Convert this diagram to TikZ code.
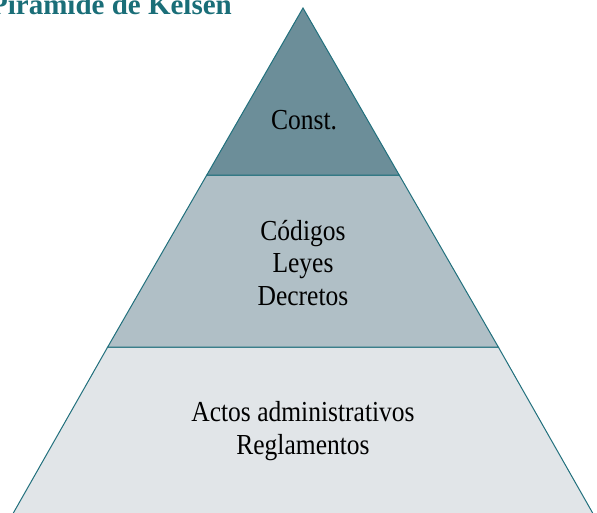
\documentclass[tikz,border=0pt]{standalone}
\usepackage{fontspec}
\setmainfont{Liberation Serif}
\newfontfamily\bandfont[FakeStretch=0.88]{Liberation Serif}
\definecolor{edgeteal}{HTML}{21707D}
\definecolor{titleteal}{HTML}{1A6E78}
\definecolor{topband}{HTML}{6C8E99}
\definecolor{midband}{HTML}{B0BFC6}
\definecolor{lowband}{HTML}{E1E5E8}
\begin{document}
\begin{tikzpicture}[x=1pt,y=-1pt,
  band/.style={draw=edgeteal,line width=1pt,line join=miter},
  bandtext/.style={font=\bandfont\fontsize{29}{32.5}\selectfont,align=center,text=black,inner sep=0pt}]
\useasboundingbox (0,0) rectangle (597,512);
\clip (0,0) rectangle (597,512);
\coordinate (apex) at (303,8);
\coordinate (l1) at (206.8,175);
\coordinate (r1) at (399.2,175);
\coordinate (l2) at (107.7,347);
\coordinate (r2) at (498.3,347);
\coordinate (l3) at (-2,540);
\coordinate (r3) at (608,540);
\fill[lowband] (l2) -- (r2) -- (r3) -- (l3) -- cycle;
\draw[band] (r3) -- (r2) -- (l2) -- (l3);
\draw[band,fill=midband] (l1) -- (r1) -- (r2) -- (l2) -- cycle;
\draw[band,fill=topband] (apex) -- (r1) -- (l1) -- cycle;
\node[bandtext] (const) at (304,120) {Const.};
\node[bandtext] (mid) at (303,263) {Códigos\\Leyes\\Decretos};
\node[bandtext] (low) at (303,431) {Actos administrativos\\Reglamentos};
\node[font=\bfseries\fontsize{29}{34}\selectfont,text=titleteal,anchor=base east,inner sep=0pt] (title) at (232,14) {Pirámide de Kelsen};
\end{tikzpicture}
\end{document}
